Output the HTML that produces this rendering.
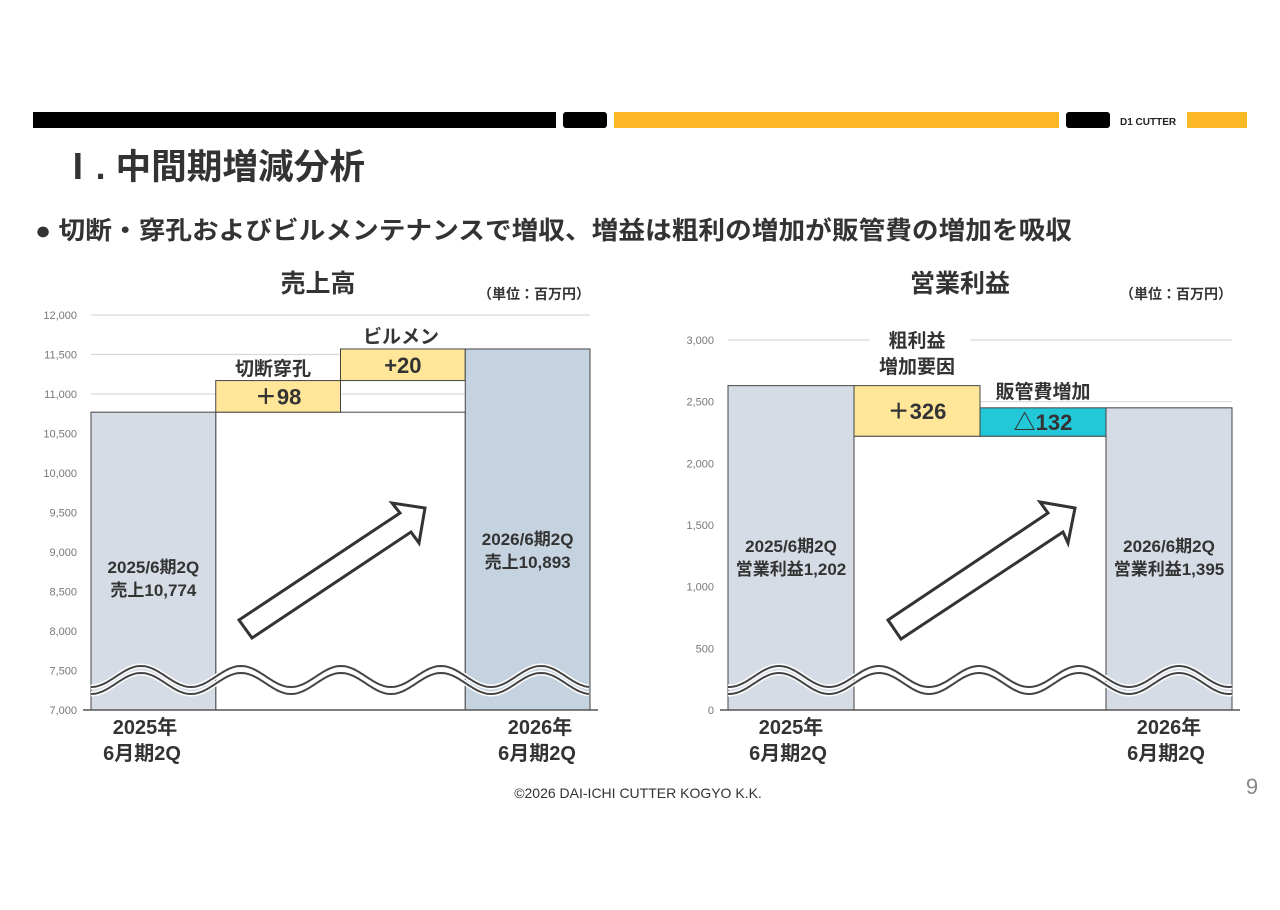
<!DOCTYPE html>
<html><head><meta charset="utf-8">
<style>
body{margin:0;background:#fff;}
svg text{font-family:"Liberation Sans","Noto Sans CJK JP",sans-serif;}
</style></head>
<body>
<svg id="s" width="1280" height="905" xmlns="http://www.w3.org/2000/svg">
<rect x="33" y="112" width="523" height="16" fill="#000"/>
<rect x="563" y="112" width="44" height="16" rx="3" fill="#000"/>
<rect x="614" y="112" width="445" height="16" fill="#FDB825"/>
<rect x="1066" y="112" width="44" height="16" rx="3" fill="#000"/>
<text x="1120" y="125" font-size="10" font-weight="bold" fill="#222">D1 CUTTER</text>
<rect x="1187" y="112" width="60" height="16" fill="#FDB825"/>
<text x="60" y="179" font-size="35" font-weight="bold" fill="#333" textLength="305" lengthAdjust="spacingAndGlyphs">Ⅰ. 中間期増減分析</text>
<text x="35" y="239" font-size="25" font-weight="bold" fill="#333" textLength="1037" lengthAdjust="spacingAndGlyphs">● 切断・穿孔およびビルメンテナンスで増収、増益は粗利の増加が販管費の増加を吸収</text>
<text x="318" y="292" font-size="25" font-weight="bold" fill="#333" text-anchor="middle">売上高</text>
<text x="590" y="299" font-size="14" font-weight="bold" fill="#333" text-anchor="end">（単位：百万円）</text>
<text x="960" y="292" font-size="25" font-weight="bold" fill="#333" text-anchor="middle">営業利益</text>
<text x="1232" y="299" font-size="14" font-weight="bold" fill="#333" text-anchor="end">（単位：百万円）</text>
<text x="638" y="798" font-size="14" fill="#333" text-anchor="middle">©2026 DAI-ICHI CUTTER KOGYO K.K.</text>
<text x="1252" y="794" font-size="22" fill="#888" text-anchor="middle">9</text>
<g id="c1"></g><g id="c2"></g>
</svg>
<script>
// Sales chart (plotted values on broken axis)
const salesTicks=[7000,7500,8000,8500,9000,9500,10000,10500,11000,11500,12000];
const salesBase=[7000,10770,11170,7000];
const salesTop=[10770,11170,11570,11570];
const salesLabels=[["2025/6期2Q","売上10,774"],["＋98"],["+20"],["2026/6期2Q","売上10,893"]];
const catLabels=[["2025年","6月期2Q"],["2026年","6月期2Q"]];
// Profit chart
const profTicks=[0,500,1000,1500,2000,2500,3000];
const profBase=[0,2220,2220,0];
const profTop=[2630,2630,2450,2450];
const profLabels=[["2025/6期2Q","営業利益1,202"],["＋326"],["△132"],["2026/6期2Q","営業利益1,395"]];

const NS="http://www.w3.org/2000/svg";
function mk(p,t,a,txt){const e=document.createElementNS(NS,t);for(const k in a)e.setAttribute(k,a[k]);if(txt!=null)e.textContent=txt;p.appendChild(e);return e;}
function fmt(v){return v.toLocaleString('en-US');}

function chart(g,o){
  const y=v=>o.y0-(v-o.min)/(o.max-o.min)*(o.y0-o.y1);
  const bw=(o.x1-o.x0)/4;
  o.ticks.forEach(t=>{
    if(t!==o.min){const l=mk(g,'line',{x1:o.x0,x2:o.x1,y1:y(t),y2:y(t),stroke:'#d9d9d9','stroke-width':1.2});
    }
    const tx=mk(g,'text',{x:o.x0-14,y:y(t)+4,'font-size':11,fill:'#777','text-anchor':'end'},fmt(t));
    
  });
  mk(g,'rect',{x:o.x0+bw,y:y(o.base[1]),width:bw*2,height:o.y0-y(o.base[1]),fill:'#fff',stroke:'#444','stroke-width':1});
  for(let i=0;i<4;i++){
    const top=y(o.top[i]),bot=y(o.base[i]);
    const r=mk(g,'rect',{x:o.x0+bw*i,y:top,width:bw,height:bot-top,fill:o.colors[i],stroke:'#444','stroke-width':1});
    
    
    const lb=o.labels[i];
    const cx=o.x0+bw*i+bw/2;
    if(lb.length===2){
      const cy=(i===0?o.lblY[0]:o.lblY[1]);
      lb.forEach((s,k)=>{const t=mk(g,'text',{x:cx,y:cy+k*23,'font-size':17,'font-weight':'bold',fill:'#333','text-anchor':'middle'},s);
      });
    } else {
      const t=mk(g,'text',{x:cx,y:(top+bot)/2+8,'font-size':22,'font-weight':'bold',fill:'#333','text-anchor':'middle'},lb[0]);
      
    }
  }
  const ax=mk(g,'line',{x1:o.x0-8,x2:o.x1+8,y1:o.y0,y2:o.y0,stroke:'#555','stroke-width':1.5});
  
  const wave=cy=>{let d='';for(let x=o.x0;x<=o.x1;x+=2){const yy=cy-10.5*Math.cos((x-o.peak)/100*2*Math.PI);d+=(x===o.x0?'M':'L')+x+' '+yy.toFixed(1);}return d;};
  [676.5,683.5].forEach(cy=>mk(g,'path',{d:wave(cy),fill:'none',stroke:'#fff','stroke-width':5}));
  [676.5,683.5].forEach(cy=>{
    const p=mk(g,'path',{d:wave(cy),fill:'none',stroke:'#444','stroke-width':2});
    });
  const ar=mk(g,'polygon',{points:o.arrow,fill:'#fff',stroke:'#333','stroke-width':3});
  
  catLabels.forEach((c,j)=>{
    const cx=o.catX[j];
    const a=mk(g,'text',{x:cx,y:734,'font-size':20,'font-weight':'bold',fill:'#333','text-anchor':'middle'},c[0]);
    
    const b=mk(g,'text',{x:cx-3,y:760,'font-size':20,'font-weight':'bold',fill:'#333','text-anchor':'middle'},c[1]);
    
  });
}
const g1=document.getElementById('c1');


chart(g1,{x0:91,x1:590,y0:710,y1:315,min:7000,max:12000,ticks:salesTicks,base:salesBase,top:salesTop,labels:salesLabels,
 colors:['#D6DCE5','#FFE699','#FFE699','#C5D3E0'],lblY:[573,545],catX:[145,540],peak:141,
 arrow:'239,620 252,638 411,532 419,543 425,508 392,503 400,513'});
const a1=mk(g1,'text',{x:273,y:375,'font-size':19,'font-weight':'bold',fill:'#333','text-anchor':'middle'},'切断穿孔');

const a2=mk(g1,'text',{x:401,y:343,'font-size':19,'font-weight':'bold',fill:'#333','text-anchor':'middle'},'ビルメン');


const g2=document.getElementById('c2');


chart(g2,{x0:728,x1:1232,y0:710,y1:340,min:0,max:3000,ticks:profTicks,base:profBase,top:profTop,labels:profLabels,
 colors:['#D6DCE5','#FFE699','#22C8D8','#D6DCE5'],lblY:[552,552],catX:[791,1169],peak:779,
 arrow:'888,620 901,639 1063,532 1068,543 1075,508 1040,502 1048,513'});
mk(g2,'rect',{x:870,y:325,width:100,height:58,fill:'#fff'});
const b1=mk(g2,'text',{x:917,y:347,'font-size':19,'font-weight':'bold',fill:'#333','text-anchor':'middle'},'粗利益');

const b2=mk(g2,'text',{x:917,y:373,'font-size':19,'font-weight':'bold',fill:'#333','text-anchor':'middle'},'増加要因');

const b3=mk(g2,'text',{x:1043,y:398,'font-size':19,'font-weight':'bold',fill:'#333','text-anchor':'middle'},'販管費増加');

</script>
</body></html>
